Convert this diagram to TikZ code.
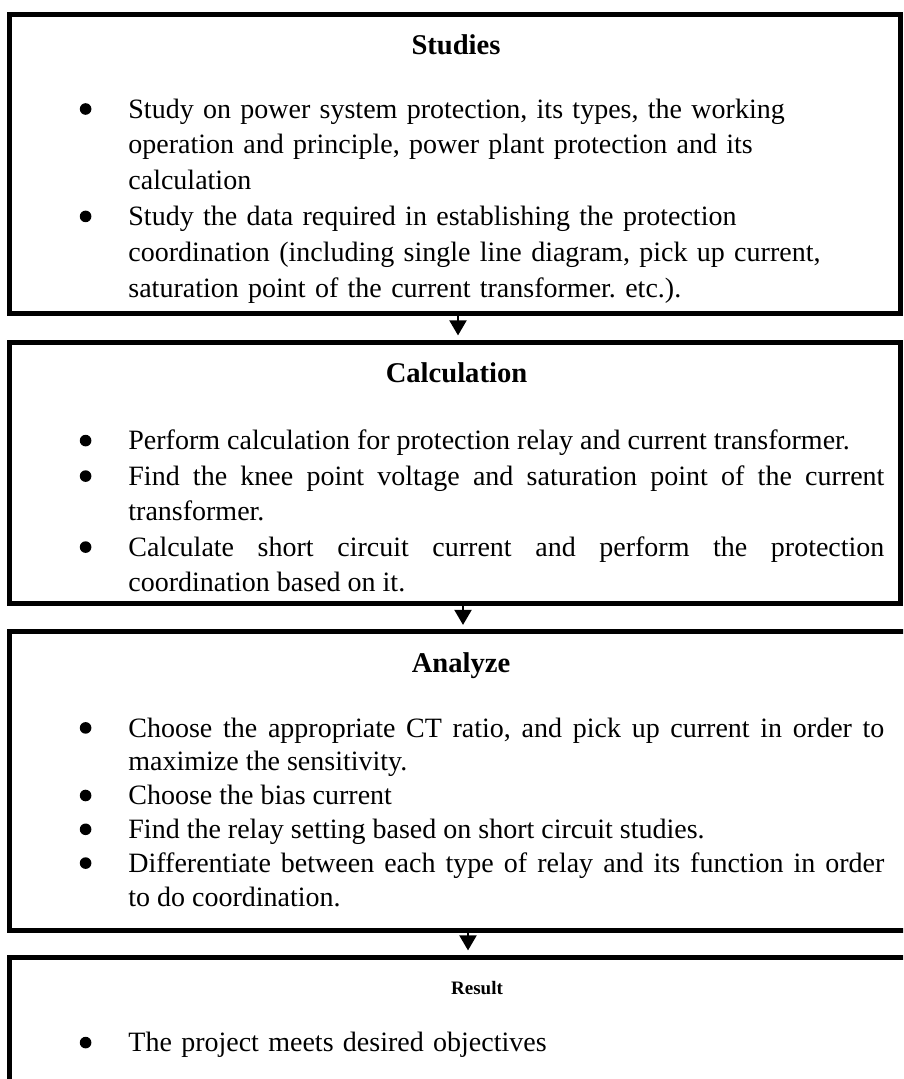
\documentclass[tikz,border=0pt]{standalone}
\usepackage{fontspec}
\setmainfont{Liberation Serif}
\usetikzlibrary{positioning,arrows.meta}

% bullet list used inside the stage boxes
\newcommand{\bigdot}{\tikz[baseline=-4.6pt]\fill (0,0) circle (2.9pt);}
\newenvironment{dotlist}{%
  \frenchspacing
  \begin{list}{\bigdot}{%
    \setlength{\leftmargin}{27pt}\setlength{\labelwidth}{9.5pt}%
    \setlength{\labelsep}{18.5pt}\setlength{\itemsep}{0pt}%
    \setlength{\parsep}{0pt}\setlength{\topsep}{0pt}\setlength{\partopsep}{0pt}}}%
  {\end{list}}

\begin{document}
\begin{tikzpicture}[
    stage/.style={rectangle, draw, line width=2.5pt, inner sep=0pt, outer sep=0pt, minimum width=445.5pt, anchor=north west},
    heading/.style={font=\fontsize{14.3pt}{17pt}\selectfont\bfseries, inner sep=0pt},
    points/.style={text width=405pt, inner sep=0pt, font=\fontsize{14pt}{#1}\selectfont},
    points/.default=17.75pt,
    arrow/.style={line width=1pt, -{Triangle[width=8.5pt,length=7.5pt]}, shorten >=3.5pt}
]
\useasboundingbox (0,0) rectangle (451.5pt,-539.5pt);
\clip (0,0) rectangle (451.5pt,-539.5pt);

% Stage boxes
\node[stage, minimum height=149.3pt] (studies) at (4.5pt,-7.5pt) {};
\node[stage, minimum height=130.75pt, below=14.4pt of studies.south west, anchor=north west] (calc) {};
\node[stage, minimum height=149.5pt, minimum width=452pt, below=14pt of calc.south west, anchor=north west] (analyze) {};
\node[stage, minimum height=150pt, minimum width=452pt, below=13.25pt of analyze.south west, anchor=north west] (result) {};

% Headings
\node[heading, below=9.5pt of studies.north, xshift=0.75pt] (studiestitle) {Studies};
\node[heading, below=10pt of calc.north, xshift=1pt] (calctitle) {Calculation};
\node[heading, below=10pt of analyze.north] (analyzetitle) {Analyze};
\node[heading, font=\fontsize{9.5pt}{11pt}\selectfont\bfseries, below=11.85pt of result.north, xshift=8pt] (resulttitle) {Result};

% Studies
\node[points=17.9pt, below right=33.5pt and 32.5pt of studies.north west] (s1) {%
\begin{dotlist}
\item Study on power system protection, its types, the working\newline
operation and principle, power plant protection and its\newline
calculation
\item Study the data required in establishing the protection\newline
coordination (including single line diagram, pick up current,\newline
saturation point of the current transformer. etc.).
\end{dotlist}};

% Calculation
\node[points, align=justify, below right=35.75pt and 32.5pt of calc.north west] (c1) {%
\begin{dotlist}
\item Perform calculation for protection relay and current transformer.
\item Find the knee point voltage and saturation point of the current\linebreak
transformer.
\item Calculate short circuit current and perform the protection\linebreak
coordination based on it.
\end{dotlist}};

% Analyze
\node[points=16.9pt, align=justify, below right=35.5pt and 32.5pt of analyze.north west] (a1) {%
\begin{dotlist}
\item Choose the appropriate CT ratio, and pick up current in order to\linebreak
maximize the sensitivity.
\item Choose the bias current
\item Find the relay setting based on short circuit studies.
\item Differentiate between each type of relay and its function in order\linebreak
to do coordination.
\end{dotlist}};

% Result
\node[points, below right=29.25pt and 32.5pt of result.north west] (r1) {%
\begin{dotlist}
\item The project meets desired objectives
\end{dotlist}};

% Flow arrows
\draw[arrow] ([xshift=1.75pt]studies.south) -- ([xshift=1.75pt]studies.south |- calc.north);
\draw[arrow] ([xshift=4.25pt]calc.south) -- ([xshift=4.25pt]calc.south |- analyze.north);
\draw[arrow] ([xshift=6.75pt]calc.south |- analyze.south) -- ([xshift=6.75pt]calc.south |- result.north);

\end{tikzpicture}
\end{document}
